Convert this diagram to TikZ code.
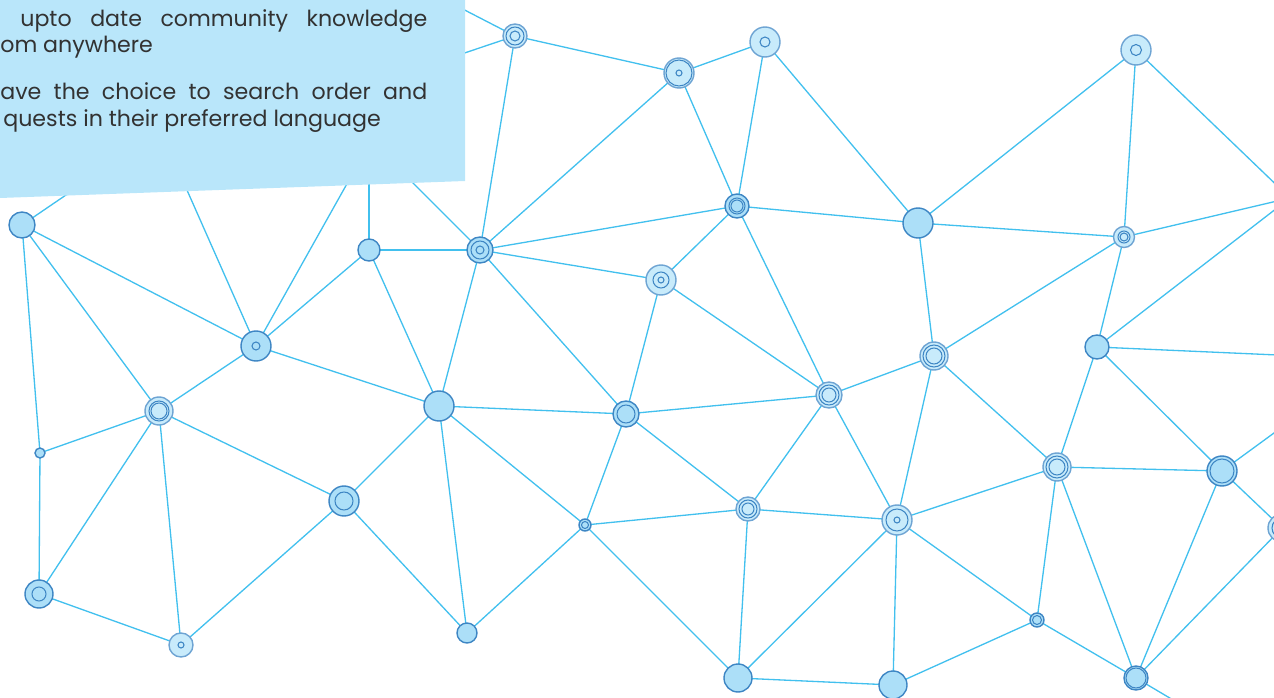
\documentclass[tikz,border=0pt]{standalone}
\usepackage{fontspec}
\setmainfont{Poppins}
\usetikzlibrary{backgrounds}

\definecolor{linkblue}{RGB}{66,192,238}
\definecolor{hubfill}{RGB}{172,223,248}
\definecolor{palefill}{RGB}{200,235,251}
\definecolor{hubedge}{RGB}{62,134,196}
\definecolor{boxblue}{RGB}{185,230,250}
\definecolor{textgray}{RGB}{50,50,50}

\tikzset{
  link/.style={draw=linkblue, line width=0.75pt},
  hub/.style={circle, inner sep=0pt, minimum size=#1*0.2mm, draw=hubedge, fill=hubfill, line width=0.8pt},
  pale/.style={fill=palefill, draw=hubedge!75},
  ringed/.style={path picture={\foreach \r in {#1} \draw[hubedge, line width=0.6pt] (path picture bounding box.center) circle (\r*0.2mm);}},
  blurb/.style={anchor=base west, inner sep=0pt, text=textgray, font=\fontsize{12.6}{15}\selectfont},
}

\begin{document}
\begin{tikzpicture}[x=0.2mm, y=-0.2mm]

    \useasboundingbox (0,0) rectangle (1274,698);

    % les noeuds
    \node[hub=24, pale, ringed={9,5}] (A) at (515,36) {};
    \node[hub=30, pale, ringed={13,3}] (B) at (679,73) {};
    \node[hub=30, pale, ringed={5}] (C) at (765,42) {};
    \node[hub=30, pale, ringed={5.5}] (D) at (1136,50) {};
    \node[hub=24, ringed={8,6}] (E) at (737,206) {};
    \node[hub=30] (F) at (918,223) {};
    \node[hub=21, pale, ringed={6,4}] (G) at (1124,237) {};
    \node[hub=26] (H) at (22,225) {};
    \node[hub=22] (I) at (369,250) {};
    \node[hub=26, ringed={9,4}] (J) at (480,250) {};
    \node[hub=30, pale, ringed={8,3}] (K) at (661,280) {};
    \node[hub=30, ringed={4}] (L) at (256,346) {};
    \node[hub=28, pale, ringed={11,8}] (M) at (934,356) {};
    \node[hub=24] (N) at (1097,347) {};
    \node[hub=28, pale, ringed={10,8}] (O) at (159,411) {};
    \node[hub=30] (P) at (439,406) {};
    \node[hub=26, ringed={9}] (Q) at (626,414) {};
    \node[hub=26, pale, ringed={10,7}] (R) at (829,395) {};
    \node[hub=10] (S) at (40,453) {};
    \node[hub=30, ringed={9}] (T) at (344,501) {};
    \node[hub=28, pale, ringed={11,8}] (U) at (1057,467) {};
    \node[hub=30, ringed={12}] (V) at (1222,471) {};
    \node[hub=12, ringed={3.5}] (W) at (585,525) {};
    \node[hub=24, pale, ringed={9,6}] (X) at (748,509) {};
    \node[hub=30, pale, ringed={11,3}] (Y) at (897,520) {};
    \node[hub=28, pale, ringed={10}] (Z) at (1282,528) {};
    \node[hub=28, ringed={7}] (a) at (39,594) {};
    \node[hub=24, pale, ringed={3}] (b) at (181,645) {};
    \node[hub=20] (c) at (467,633) {};
    \node[hub=14, ringed={4.5}] (d) at (1037,620) {};
    \node[hub=28] (e) at (738,678) {};
    \node[hub=28] (f) at (893,685) {};
    \node[hub=24, ringed={10}] (g) at (1136,678) {};

    % bouts qui sortent du cadre
    \coordinate (offA1) at (420,-13);
    \coordinate (offA2) at (420,68);
    \coordinate (offH) at (110,165);
    \coordinate (offL1) at (175,163);
    \coordinate (offL2) at (362,157);
    \coordinate (offI) at (369,150);
    \coordinate (offJ) at (390,160);
    \coordinate (offR1) at (1290,198);
    \coordinate (offR2) at (1300,356);
    \coordinate (offR3) at (1300,414);
    \coordinate (offB) at (1190,710);

    \begin{pgfonlayer}{background}
    \draw[link] (A.center) -- (offA1);
    \draw[link] (A.center) -- (offA2);
    \draw[link] (A.center) -- (B.center);
    \draw[link] (A.center) -- (J.center);
    \draw[link] (B.center) -- (C.center);
    \draw[link] (B.center) -- (J.center);
    \draw[link] (B.center) -- (E.center);
    \draw[link] (C.center) -- (E.center);
    \draw[link] (C.center) -- (F.center);
    \draw[link] (D.center) -- (F.center);
    \draw[link] (D.center) -- (G.center);
    \draw[link] (D.center) -- (offR1);
    \draw[link] (E.center) -- (J.center);
    \draw[link] (E.center) -- (F.center);
    \draw[link] (E.center) -- (K.center);
    \draw[link] (E.center) -- (R.center);
    \draw[link] (F.center) -- (G.center);
    \draw[link] (F.center) -- (M.center);
    \draw[link] (G.center) -- (offR1);
    \draw[link] (G.center) -- (M.center);
    \draw[link] (G.center) -- (N.center);
    \draw[link] (N.center) -- (offR1);
    \draw[link] (N.center) -- (offR2);
    \draw[link] (N.center) -- (U.center);
    \draw[link] (N.center) -- (V.center);

    \draw[link] (H.center) -- (offH);
    \draw[link] (H.center) -- (L.center);
    \draw[link] (H.center) -- (O.center);
    \draw[link] (H.center) -- (S.center);
    \draw[link] (L.center) -- (offL1);
    \draw[link] (L.center) -- (offL2);
    \draw[link] (I.center) -- (offI);
    \draw[link] (J.center) -- (offJ);
    \draw[link] (I.center) -- (J.center);
    \draw[link] (I.center) -- (L.center);
    \draw[link] (I.center) -- (P.center);
    \draw[link] (L.center) -- (O.center);
    \draw[link] (L.center) -- (P.center);
    \draw[link] (J.center) -- (P.center);
    \draw[link] (J.center) -- (K.center);
    \draw[link] (J.center) -- (Q.center);
    \draw[link] (K.center) -- (Q.center);
    \draw[link] (K.center) -- (R.center);

    \draw[link] (O.center) -- (S.center);
    \draw[link] (O.center) -- (T.center);
    \draw[link] (O.center) -- (a.center);
    \draw[link] (O.center) -- (b.center);
    \draw[link] (S.center) -- (a.center);
    \draw[link] (a.center) -- (b.center);
    \draw[link] (T.center) -- (b.center);
    \draw[link] (P.center) -- (T.center);
    \draw[link] (P.center) -- (Q.center);
    \draw[link] (P.center) -- (W.center);
    \draw[link] (P.center) -- (c.center);
    \draw[link] (T.center) -- (c.center);
    \draw[link] (W.center) -- (c.center);
    \draw[link] (W.center) -- (X.center);
    \draw[link] (W.center) -- (e.center);
    \draw[link] (Q.center) -- (W.center);
    \draw[link] (Q.center) -- (R.center);
    \draw[link] (Q.center) -- (X.center);

    \draw[link] (R.center) -- (X.center);
    \draw[link] (R.center) -- (M.center);
    \draw[link] (R.center) -- (Y.center);
    \draw[link] (M.center) -- (Y.center);
    \draw[link] (M.center) -- (U.center);
    \draw[link] (X.center) -- (Y.center);
    \draw[link] (X.center) -- (e.center);
    \draw[link] (Y.center) -- (U.center);
    \draw[link] (Y.center) -- (e.center);
    \draw[link] (Y.center) -- (f.center);
    \draw[link] (Y.center) -- (d.center);
    \draw[link] (U.center) -- (V.center);
    \draw[link] (U.center) -- (d.center);
    \draw[link] (U.center) -- (g.center);
    \draw[link] (V.center) -- (g.center);
    \draw[link] (V.center) -- (Z.center);
    \draw[link] (V.center) -- (offR3);
    \draw[link] (Z.center) -- (g.center);
    \draw[link] (g.center) -- (offB);
    \draw[link] (d.center) -- (f.center);
    \draw[link] (d.center) -- (g.center);
    \draw[link] (e.center) -- (f.center);
    \end{pgfonlayer}

    % le cadre bleu avec le texte
    \fill[boxblue] (0,0) -- (465,0) -- (465,181) -- (0,198) -- cycle;

    \node[blurb] (line1) at (20,26) {\makebox[81.4mm][s]{upto date community knowledge}};
    \node[blurb] (line2) at (0,52) {om anywhere};
    \node[blurb] (line3) at (0,99) {\makebox[85.4mm][s]{ave the choice to search order and}};
    \node[blurb] (line4) at (3,126) {quests in their preferred language};

\end{tikzpicture}
\end{document}
